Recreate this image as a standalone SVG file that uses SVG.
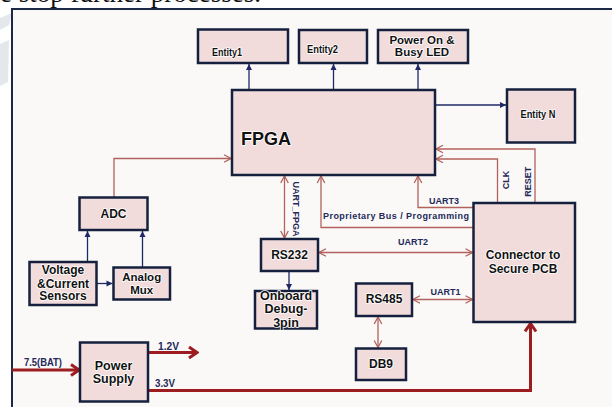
<svg xmlns="http://www.w3.org/2000/svg" width="612" height="407" viewBox="0 0 612 407">
<defs>
<marker id="rc" markerUnits="userSpaceOnUse" markerWidth="10" markerHeight="10" viewBox="0 0 10 10" refX="9" refY="5" orient="auto-start-reverse"><path d="M2,1.2 L9,5 L2,8.8" fill="none" stroke="#b2625c" stroke-width="1.3"/></marker>
<marker id="nv" markerUnits="userSpaceOnUse" markerWidth="8" markerHeight="8" viewBox="0 0 8 8" refX="7" refY="4" orient="auto"><path d="M1,1 L7,4 L1,7 Z" fill="#1f2866"/></marker>
<marker id="pw" markerUnits="userSpaceOnUse" markerWidth="14" markerHeight="14" viewBox="0 0 14 14" refX="12" refY="7" orient="auto"><path d="M4,1.5 L12,7 L4,12.5" fill="none" stroke="#9c1c1f" stroke-width="3"/></marker>
</defs>
<style>
.box{fill:#f2dcdb;stroke:#14203d;stroke-width:2.5}
.t{font-family:"Liberation Sans",Arial,sans-serif;font-weight:bold;fill:#111;text-anchor:middle;stroke:#fff;stroke-width:1.6;paint-order:stroke;stroke-linejoin:round}
.c{font-family:"Liberation Sans",Arial,sans-serif;font-weight:bold;fill:#24295a;font-size:9px}
.r{fill:none;stroke:#b2625c;stroke-width:1.3}
.n{fill:none;stroke:#1f2866;stroke-width:1.3}
.p{fill:none;stroke:#9c1c1f;stroke-width:3}
</style>
<rect width="612" height="407" fill="#ffffff"/>
<polygon points="0,18 12,13 9,25 0,30" fill="#e4e7eb"/>
<polygon points="0,44 9,40 8,82 0,86" fill="#e4e7eb"/>
<text x="0" y="2" font-family="Liberation Serif,serif" font-size="27" fill="#111">e stop further processes.</text>
<rect x="12" y="9" width="610" height="410" fill="#faf9f7" stroke="#1b2846" stroke-width="2"/>

<g id="connectors">
<line class="n" x1="249" y1="90" x2="249" y2="64" marker-end="url(#nv)"/>
<line class="n" x1="333.5" y1="90" x2="333.5" y2="64" marker-end="url(#nv)"/>
<line class="n" x1="418" y1="90" x2="418" y2="64" marker-end="url(#nv)"/>
<line class="n" x1="435" y1="105" x2="506" y2="105" marker-end="url(#nv)"/>
<path class="r" d="M114,197.5 V158.5 H231" marker-end="url(#rc)"/>
<line class="n" x1="87.5" y1="262" x2="87.5" y2="231" marker-end="url(#nv)"/>
<line class="n" x1="142.5" y1="267.5" x2="142.5" y2="231" marker-end="url(#nv)"/>
<line class="n" x1="96.5" y1="283.5" x2="112.5" y2="283.5" marker-end="url(#nv)"/>
<path class="r" d="M535,203 V149 H436" marker-end="url(#rc)"/>
<path class="r" d="M497.5,203 V159 H436" marker-end="url(#rc)"/>
<path class="r" d="M473.5,207.5 H418 V176" marker-end="url(#rc)"/>
<path class="r" d="M473.5,227.5 H321 V176" marker-end="url(#rc)"/>
<line class="r" x1="284.5" y1="176" x2="284.5" y2="238" marker-start="url(#rc)" marker-end="url(#rc)"/>
<line class="r" x1="319" y1="252.5" x2="472.5" y2="252.5" marker-start="url(#rc)" marker-end="url(#rc)"/>
<line class="n" x1="289" y1="271" x2="289" y2="290" marker-end="url(#nv)"/>
<line class="r" x1="413" y1="299.5" x2="472.5" y2="299.5" marker-start="url(#rc)" marker-end="url(#rc)"/>
<line class="r" x1="378" y1="317" x2="378" y2="347.5" marker-start="url(#rc)" marker-end="url(#rc)"/>
<line class="p" x1="12" y1="370" x2="79" y2="370" marker-end="url(#pw)"/>
<line class="p" x1="148" y1="352.5" x2="197" y2="352.5" marker-end="url(#pw)"/>
<path class="p" d="M148,390.5 H530.5 V323.5" marker-end="url(#pw)"/>
<text class="c" x="444" y="204.2" text-anchor="middle">UART3</text>
<text class="c" x="323" y="219.2" textLength="146" lengthAdjust="spacing">Proprietary Bus / Programming</text>
<text class="c" x="413" y="244.9" text-anchor="middle">UART2</text>
<text class="c" x="445.5" y="294.9" text-anchor="middle">UART1</text>
<text class="c" transform="translate(509.2,180) rotate(-90)" text-anchor="middle">CLK</text>
<text class="c" transform="translate(531.2,181.7) rotate(-90)" text-anchor="middle">RESET</text>
<text class="c" transform="translate(293.3,209) rotate(90)" text-anchor="middle">UART_FPGA</text>
<text class="c" x="43" y="366" text-anchor="middle" textLength="38" lengthAdjust="spacingAndGlyphs" style="font-size:10px">7.5(BAT)</text>
<text class="c" x="168.5" y="349.5" text-anchor="middle" textLength="21" lengthAdjust="spacingAndGlyphs" style="font-size:10px">1.2V</text>
<text class="c" x="165" y="386.8" text-anchor="middle" textLength="20" lengthAdjust="spacingAndGlyphs" style="font-size:10px">3.3V</text>
</g>

<g id="fpga"><rect class="box" x="232" y="90" width="203" height="85"/><text class="t" x="241" y="144.5" style="font-size:18px;text-anchor:start">FPGA</text></g>
<g id="entity1"><rect class="box" x="198" y="29.5" width="90" height="33.5"/><text class="t" x="212" y="55.5" style="font-size:10.5px;text-anchor:start" textLength="30" lengthAdjust="spacingAndGlyphs">Entity1</text></g>
<g id="entity2"><rect class="box" x="299" y="30" width="68" height="33"/><text class="t" x="307" y="53" style="font-size:10.5px;text-anchor:start" textLength="31" lengthAdjust="spacingAndGlyphs">Entity2</text></g>
<g id="power-led"><rect class="box" x="378" y="30" width="90" height="33"/><text class="t" x="422" y="44" style="font-size:11.5px">Power On &amp;</text><text class="t" x="422" y="56.3" style="font-size:11.5px">Busy LED</text></g>
<g id="entityN"><rect class="box" x="507" y="89.5" width="68" height="53"/><text class="t" x="538" y="117.7" style="font-size:10.5px" textLength="35" lengthAdjust="spacingAndGlyphs">Entity N</text></g>
<g id="adc"><rect class="box" x="79.5" y="197.5" width="68" height="32.5"/><text class="t" x="113.5" y="217.6" style="font-size:12px">ADC</text></g>
<g id="sensors"><rect class="box" x="29.5" y="262" width="67" height="43"/><text class="t" x="63" y="274.3" style="font-size:12px">Voltage</text><text class="t" x="63" y="287.6" style="font-size:12px">&amp;Current</text><text class="t" x="63" y="300.3" style="font-size:12px">Sensors</text></g>
<g id="analog-mux"><rect class="box" x="113.5" y="267.5" width="56.5" height="32"/><text class="t" x="141.7" y="281.2" style="font-size:11.5px">Analog</text><text class="t" x="141.7" y="294" style="font-size:11.5px">Mux</text></g>
<g id="rs232"><rect class="box" x="261" y="239" width="57" height="32"/><text class="t" x="289.5" y="259.3" style="font-size:12px">RS232</text></g>
<g id="onboard"><rect class="box" x="255" y="291" width="62" height="37.5"/><text class="t" x="286" y="300.4" style="font-size:12.5px">Onboard</text><text class="t" x="286" y="313.4" style="font-size:12.5px">Debug-</text><text class="t" x="286" y="326.6" style="font-size:12.5px">3pin</text></g>
<g id="rs485"><rect class="box" x="356" y="283.5" width="56" height="32.5"/><text class="t" x="384" y="303.3" style="font-size:12px">RS485</text></g>
<g id="db9"><rect class="box" x="356" y="348.5" width="50" height="31.5"/><text class="t" x="381" y="368.3" style="font-size:12px">DB9</text></g>
<g id="connector"><rect class="box" x="473.5" y="203" width="101.5" height="119"/><text class="t" x="523" y="259.3" style="font-size:12px">Connector to</text><text class="t" x="523" y="272.6" style="font-size:12px">Secure PCB</text></g>
<g id="power-supply"><rect class="box" x="80" y="342.5" width="68" height="59"/><text class="t" x="113.5" y="370" style="font-size:12.5px">Power</text><text class="t" x="113.5" y="383.3" style="font-size:12.5px">Supply</text></g>
</svg>
